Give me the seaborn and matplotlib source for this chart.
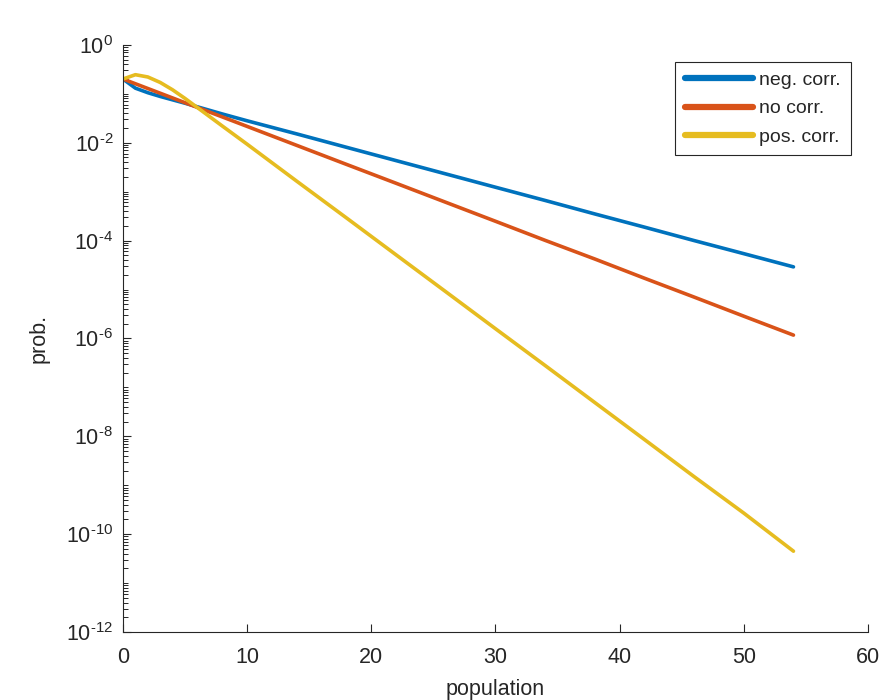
import numpy as np
import pandas as pd
import matplotlib
matplotlib.use("Agg")
import matplotlib.pyplot as plt
import matplotlib.ticker as mticker
import seaborn as sns

# valores (poblacion vs probabilidad)
population = [0, 1, 2, 3, 4, 5, 6, 8, 10, 14, 18, 22, 26, 30, 34, 38, 42, 46, 50, 54]

neg_corr = [0.2, 0.13, 0.105, 0.088, 0.075, 0.064, 0.054, 0.0386, 0.028, 0.0151,
            0.00805, 0.0043, 0.0023, 0.00123, 6.6e-4, 3.5e-4, 1.88e-4, 1.0e-4,
            5.4e-5, 2.9e-5]
no_corr = [0.2, 0.16, 0.128, 0.1024, 0.0819, 0.0655, 0.0524, 0.0336, 0.0215,
           0.0088, 0.0036, 0.00148, 6.05e-4, 2.48e-4, 1.01e-4, 4.2e-5, 1.7e-5,
           7.0e-6, 2.85e-6, 1.17e-6]
pos_corr = [0.2, 0.245, 0.22, 0.17, 0.12, 0.08, 0.052, 0.0219, 0.0093, 0.00163,
            2.9e-4, 5.1e-5, 9.0e-6, 1.58e-6, 2.8e-7, 4.9e-8, 8.6e-9, 1.5e-9,
            2.7e-10, 4.5e-11]

series_names = ["neg. corr.", "no corr.", "pos. corr."]
colores = {"neg. corr.": "#0072BD", "no corr.": "#D95319", "pos. corr.": "#E6BC20"}

df = pd.DataFrame({
    "population": population * 3,
    "prob": neg_corr + no_corr + pos_corr,
    "serie": [s for s in series_names for _ in population],
})

sns.set_style("white")
plt.rcParams["font.family"] = ["Liberation Sans", "DejaVu Sans"]
plt.rcParams["mathtext.fontset"] = "custom"
plt.rcParams["mathtext.rm"] = "Liberation Sans"
plt.rcParams["mathtext.it"] = "Liberation Sans:italic"
plt.rcParams["axes.unicode_minus"] = False

fig = plt.figure(figsize=(8.81, 7.0), dpi=100)
ax = fig.add_axes([0.1396, 0.097, 0.8456, 0.839])

sns.lineplot(data=df, x="population", y="prob", hue="serie", hue_order=series_names,
             palette=colores, linewidth=2.6, ax=ax, legend=False, sort=False)

ax.set_yscale("log")
ax.set_ylim(1e-12, 1e0)
ax.set_xlim(0, 60)
ax.set_xticks([0, 10, 20, 30, 40, 50, 60])
exps = list(range(-12, 1, 2))


def etiqueta_log(v, pos):
    e = int(round(np.log10(v)))
    if e < 0:
        return r"$\mathrm{10^{\text{-}%d}}$" % (-e)
    return r"$\mathrm{10^{%d}}$" % e


ax.yaxis.set_major_locator(mticker.FixedLocator([10.0 ** e for e in exps]))
ax.yaxis.set_major_formatter(mticker.FuncFormatter(etiqueta_log))
ax.yaxis.set_minor_locator(mticker.LogLocator(base=10, subs=np.arange(1, 10), numticks=100))
ax.yaxis.set_minor_formatter(mticker.NullFormatter())

ax.tick_params(axis="both", which="major", direction="in", length=6, width=0.8,
               labelsize=15.5, colors="#262626", bottom=True, left=True)
ax.tick_params(axis="x", which="major", pad=11)
ax.tick_params(axis="y", which="major", pad=7)
ax.tick_params(axis="y", which="minor", direction="in", length=3.5, width=0.7,
               colors="#262626", left=True)
ax.tick_params(axis="x", which="minor", length=0)

for lado in ["top", "right"]:
    ax.spines[lado].set_visible(False)
for lado in ["left", "bottom"]:
    ax.spines[lado].set_color("#262626")
    ax.spines[lado].set_linewidth(0.8)

ax.set_xlabel("population", fontsize=15.5, color="#262626", labelpad=8)
ax.set_ylabel("prob.", fontsize=15.5, color="#262626", labelpad=12)

# leyenda con lineas mas gruesas
handles = [plt.Line2D([], [], color=colores[s], linewidth=4.5) for s in series_names]
leg = ax.legend(handles, series_names, loc="upper right", bbox_to_anchor=(0.977, 0.971),
                borderaxespad=0, fontsize=14, handlelength=3.5, handletextpad=0.35,
                labelspacing=0.55, fancybox=False, framealpha=1, edgecolor="#262626",
                borderpad=0.5)
leg.get_frame().set_linewidth(0.8)

fig.savefig("out.png", dpi=100)
